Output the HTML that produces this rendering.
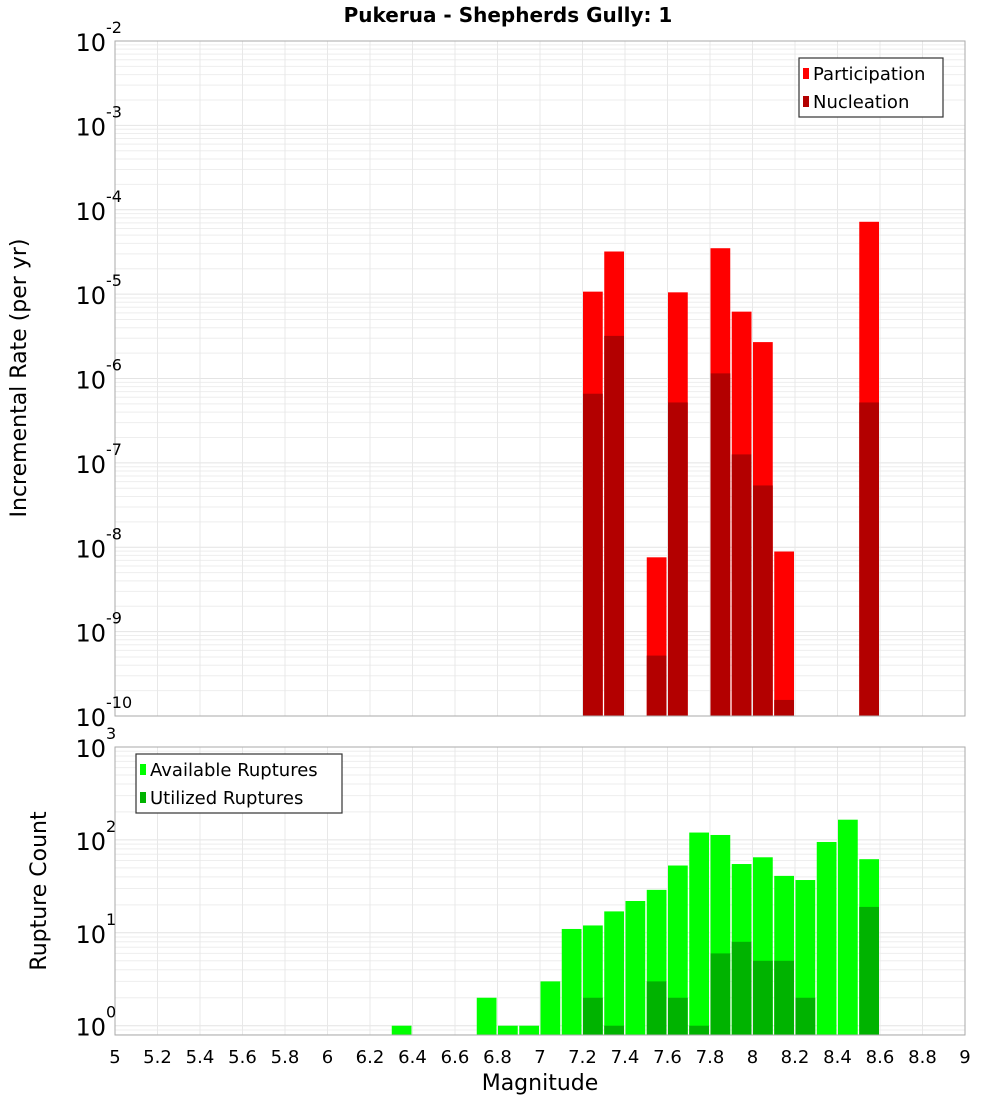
<!DOCTYPE html>
<html><head><meta charset="utf-8"><style>
body{margin:0;background:#fff;font-family:"DejaVu Sans","Liberation Sans",sans-serif}
svg text{font-family:"DejaVu Sans","Liberation Sans",sans-serif}
</style></head><body>
<svg id="c" width="1000" height="1100" xmlns="http://www.w3.org/2000/svg">
<text x="508" y="22" text-anchor="middle" font-size="20" font-weight="bold">Pukerua - Shepherds Gully: 1</text>
<g id="top"></g>
<g id="bot"></g>
<text transform="translate(26,378) rotate(-90)" text-anchor="middle" font-size="22">Incremental Rate (per yr)</text>
<text transform="translate(46,891) rotate(-90)" text-anchor="middle" font-size="22">Rupture Count</text>
<text x="540" y="1090" text-anchor="middle" font-size="22">Magnitude</text>
</svg>
<script>
const mags = [6.35,6.75,6.85,6.95,7.05,7.15,7.25,7.35,7.45,7.55,7.65,7.75,7.85,7.95,8.05,8.15,8.25,8.35,8.45,8.55];
const participation = [0,0,0,0,0,0,1.07e-5,3.2e-5,0,7.6e-9,1.05e-5,0,3.5e-5,6.2e-6,2.7e-6,8.9e-9,0,0,0,7.2e-5];
const nucleation = [0,0,0,0,0,0,6.6e-7,3.2e-6,0,5.2e-10,5.2e-7,0,1.15e-6,1.26e-7,5.4e-8,1.55e-10,0,0,0,5.2e-7];
const available = [1,2,1,1,3,11,12,17,22,29,53,120,113,55,65,41,37,95,165,62];
const utilized = [0,0,0,0,0,0,2,1,0,3,2,1,6,8,5,5,2,0,0,19];
const xTicks = [5,5.2,5.4,5.6,5.8,6,6.2,6.4,6.6,6.8,7,7.2,7.4,7.6,7.8,8,8.2,8.4,8.6,8.8,9];
const topExps = [-2,-3,-4,-5,-6,-7,-8,-9,-10];
const botExps = [3,2,1,0];

const NS="http://www.w3.org/2000/svg";
const X0=115,X1=965;
const xs=m=>X0+(m-5)/4*(X1-X0);
const T={y0:41,y1:716,lo:-10,hi:-2};
const B={y0:747,y1:1035,lo:-0.1,hi:3};
const ys=(A,v)=>A.y1-(Math.log10(v)-A.lo)/(A.hi-A.lo)*(A.y1-A.y0);
function mk(p,tag,at){const e=document.createElementNS(NS,tag);for(const k in at)e.setAttribute(k,at[k]);p.appendChild(e);return e;}

function frame(g,A,name){
  mk(g,'rect',{x:X0,y:A.y0,width:X1-X0,height:A.y1-A.y0,fill:'#fff'});
  for(let d=Math.floor(A.lo);d<=A.hi;d++)for(let k=1;k<10;k++){
    const v=k*Math.pow(10,d);const lv=Math.log10(v);if(lv<A.lo||lv>A.hi)continue;
    mk(g,'line',{x1:X0,x2:X1,y1:ys(A,v),y2:ys(A,v),stroke:k==1?'#e4e4e4':'#eeeeee','stroke-width':1});
  }
  xTicks.forEach(t=>mk(g,'line',{x1:xs(t),x2:xs(t),y1:A.y0,y2:A.y1,stroke:'#e8e8e8','stroke-width':1}));
}
function border(g,A){mk(g,'rect',{x:X0,y:A.y0,width:X1-X0,height:A.y1-A.y0,fill:'none',stroke:'#aaa','stroke-width':1});}
function bars(g,A,vals,col,name){
  vals.forEach((v,i)=>{if(!v)return;
    const x=xs(mags[i]-0.05)+0.5,w=xs(mags[i]+0.05)-xs(mags[i]-0.05)-1.5;
    const y=Math.max(ys(A,v),A.y0);
    const r=mk(g,'rect',{x:x,y:y,width:w,height:A.y1-y,fill:col});
    
    
  });
}
function ylab(g,A,exps,name){
  exps.forEach(e=>{const y=ys(A,Math.pow(10,e));
    const t=mk(g,'text',{x:106,y:y+10,'text-anchor':'end','font-size':24});
    
    
    t.textContent='10';
    const s=mk(g,'text',{x:106,y:y-8,'text-anchor':'start','font-size':16});
    s.textContent=String(e);
  });
}
function legend(g,x,y,w,items,name){
  const b=mk(g,'rect',{x:x,y:y,width:w,height:59,fill:'#fff',stroke:'#333','stroke-width':1.2});
  
  
  items.forEach((it,i)=>{
    mk(g,'rect',{x:x+4,y:y+10+i*28,width:6,height:11,fill:it[1]});
    const t=mk(g,'text',{x:x+14,y:y+22+i*28,'font-size':18});
    
    
    t.textContent=it[0];
  });
}
const gt=document.getElementById('top'),gb=document.getElementById('bot');
frame(gt,T);bars(gt,T,participation,'#ff0000','participation');bars(gt,T,nucleation,'#b30000','nucleation');border(gt,T);
ylab(gt,T,topExps,'top-y');
legend(gt,799,58,144,[['Participation','#ff0000'],['Nucleation','#b30000']],'top-legend');
frame(gb,B);bars(gb,B,available,'#00ff00','available');bars(gb,B,utilized,'#00b300','utilized');border(gb,B);
ylab(gb,B,botExps,'bottom-y');
legend(gb,136,754,206,[['Available Ruptures','#00ff00'],['Utilized Ruptures','#00b300']],'bottom-legend');
xTicks.forEach(t=>{const e=mk(gb,'text',{x:xs(t),y:1063,'text-anchor':'middle','font-size':18});
  
  
  e.textContent=String(t);});
</script>
</body></html>
